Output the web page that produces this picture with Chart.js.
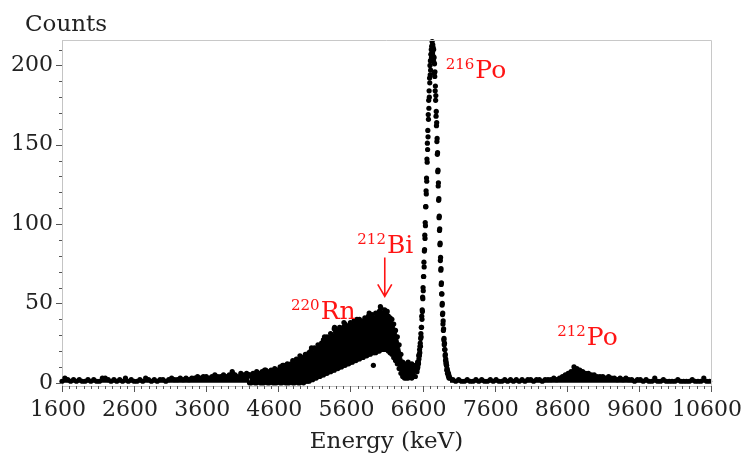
<!DOCTYPE html>
<html>
<head>
<meta charset="utf-8">
<script src="https://cdn.jsdelivr.net/npm/chart.js@4.4.1/dist/chart.umd.min.js"></script>
<style>
  html, body { margin: 0; padding: 0; background: #fff; }
</style>
</head>
<body>
<canvas id="spectrumChart" width="741" height="457"></canvas>
<script>
// tick labels
const xTickLabels = [1600, 2600, 3600, 4600, 5600, 6600, 7600, 8600, 9600, 10600];
const yTickLabels = [0, 50, 100, 150, 200];

// flat background below the Rn shoulder, one value every 40 keV from 1600 keV
const bgLeftStart = 1600, bgLeftStep = 40;
const bgLeftCounts = [
  1, 3, 2, 1, 2, 1, 2, 1, 1, 2,
  1, 2, 1, 1, 3, 3, 2, 1, 2, 1,
  2, 1, 3, 1, 2, 1, 1, 2, 1, 3,
  2, 1, 2, 1, 2, 2, 1, 2, 3, 2,
  2, 3, 2, 3, 2, 3, 3, 4, 3, 4,
  4, 3, 4, 5, 4, 4, 5, 4, 5, 7,
  5, 4, 6, 5, 6, 5
];

// 220Rn / 212Bi shoulder: upper and lower edge of the point cloud, every 25 keV from 4200 keV
const bandStart = 4200, bandStep = 25;
const bandUpper = [
  5, 4, 6, 5, 7, 5, 6, 7, 6, 8,
  6, 7, 8, 7, 9, 8, 8, 10, 9, 11,
  10, 12, 11, 12, 14, 12, 15, 14, 17, 15,
  16, 18, 17, 19, 20, 19, 22, 21, 24, 23,
  25, 27, 26, 29, 28, 31, 29, 34, 32, 33,
  35, 33, 35, 37, 35, 36, 38, 36, 39, 37,
  38, 40, 38, 39, 41, 39, 42, 40, 43, 41,
  44, 42, 45, 47, 44, 46, 43, 42, 41, 40,
  37, 33, 29, 24, 18, 13, 11, 12, 13, 11,
  12, 10, 11
];
const bandLower = [
  0, 0, 1, 0, 0, 1, 0, 0, 0, 1,
  0, 0, 1, 0, 0, 0, 1, 0, 0, 1,
  0, 0, 0, 1, 0, 0, 1, 0, 0, 1,
  0, 1, 1, 1, 2, 2, 3, 3, 4, 4,
  5, 5, 6, 6, 7, 7, 8, 8, 9, 9,
  10, 10, 11, 11, 12, 12, 13, 13, 14, 14,
  15, 15, 16, 16, 17, 17, 18, 18, 19, 19,
  19, 20, 20, 21, 21, 21, 21, 20, 19, 18,
  16, 14, 12, 9, 6, 4, 3, 3, 3, 4,
  3, 4, 4
];

// stray points scattered around the shoulder
const strayEnergy = [3968, 4410, 4660, 4873, 5060, 5240, 5380, 5510, 5690, 5860, 5918, 6015, 6110];
const strayCounts = [6, 8, 11, 14, 22, 29, 35, 38, 40, 44, 11, 48, 45];

// 216Po peak, every 3 keV from 6520 keV
const peakStart = 6520, peakStep = 3;
const peakCounts = [
  9, 7, 11, 9, 13, 10, 13, 13, 12, 17,
  15, 18, 17, 21, 19, 23, 25, 23, 28, 31,
  29, 35, 35, 42, 40, 46, 45, 54, 53, 60,
  58, 67, 67, 76, 73, 83, 84, 93, 91, 101,
  99, 111, 111, 121, 119, 129, 127, 141, 139, 151,
  147, 159, 155, 169, 166, 178, 173, 184, 180, 192,
  189, 200, 194, 203, 197, 207, 203, 210, 205, 212,
  208, 215, 213,
  208, 213, 206, 211, 204, 210, 202, 205, 195, 201,
  193, 196, 184, 187, 178, 181, 168, 171, 162, 164,
  152, 154, 144, 145, 133, 134, 124, 126, 115, 116,
  104, 105, 96, 97, 87, 88, 77, 79, 71, 72,
  62, 63, 56, 56, 49, 50, 43, 44, 37, 39,
  33, 34, 27, 28, 24, 25, 21, 21, 17, 18,
  14, 15, 12, 13, 11, 11, 8, 9, 8, 6,
  7, 6, 5, 6, 4, 5, 3, 4
];

// background above the peak incl. the 212Po bump, every 40 keV from 6980 keV
const bgRightStart = 6980, bgRightStep = 40;
const bgRightCounts = [
  3, 2, 1, 2, 1, 1, 2, 1, 1, 2,
  1, 2, 1, 1, 2, 1, 2, 1, 1, 2,
  1, 2, 1, 2, 1, 2, 1, 2, 2, 1,
  2, 2, 1, 2, 2, 2, 3, 2, 3, 4,
  5, 6, 7, 10, 9, 8, 7, 6, 6, 5,
  5, 4, 4, 4, 3, 4, 3, 3, 2, 3,
  2, 3, 2, 2, 1, 2, 2, 1, 2, 1,
  1, 3, 1, 1, 2, 1, 1, 1, 1, 2,
  1, 1, 1, 1, 2, 1, 1, 1, 3, 1,
  1
];

const isotopeLabels = [
  { sup: "216", name: "Po", e: 6921, c: 192 },
  { sup: "212", name: "Bi", e: 5695, c: 82 },
  { sup: "220", name: "Rn", e: 4776, c: 40 },
  { sup: "212", name: "Po", e: 8467, c: 24 },
];
const biArrow = { e: 6076, from: 79, to: 54.5 };

function toPoints(start, step, counts) {
  return counts.map((c, i) => ({ x: start + i * step, y: c }));
}

const FONT = "DejaVu Serif";
const dot = { pointRadius: 2.6, pointHoverRadius: 2.6, pointBackgroundColor: "#000", pointBorderWidth: 0, borderColor: "#000", borderWidth: 1, clip: false };

const decorations = {
  id: "decorations",
  afterDraw(chart) {
    const { ctx, chartArea: a, scales: { x, y } } = chart;
    ctx.save();
    ctx.strokeStyle = "#c8c8c8";
    ctx.lineWidth = 1;
    ctx.beginPath();
    ctx.moveTo(a.left, a.top + 0.5);
    ctx.lineTo(a.right + 0.5, a.top + 0.5);
    ctx.lineTo(a.right + 0.5, a.bottom);
    ctx.stroke();

    ctx.strokeStyle = "#555";
    ctx.beginPath();
    for (let v = 0; v <= 210; v += 10) {
      const py = Math.round(y.getPixelForValue(v)) + 0.5;
      const len = v % 50 === 0 ? 6 : 3;
      ctx.moveTo(a.left - len, py);
      ctx.lineTo(a.left, py);
    }
    for (let v = 1600; v <= 10600; v += 100) {
      const px = Math.round(x.getPixelForValue(v)) + 0.5;
      const len = (v - 1600) % 1000 === 0 ? 6 : 3;
      ctx.moveTo(px, a.bottom);
      ctx.lineTo(px, a.bottom + len);
    }
    ctx.stroke();

    ctx.fillStyle = "#222";
    ctx.font = "23px '" + FONT + "'";
    ctx.textAlign = "left";
    ctx.textBaseline = "alphabetic";
    ctx.fillText("Counts", 25, 31);

    ctx.fillStyle = "#ff1414";
    isotopeLabels.forEach(l => {
      const px = x.getPixelForValue(l.e);
      const py = y.getPixelForValue(l.c);
      ctx.font = "15px '" + FONT + "'";
      ctx.fillText(l.sup, px, py - 9);
      const w = ctx.measureText(l.sup).width;
      ctx.font = "25px '" + FONT + "'";
      ctx.fillText(l.name, px + w + 1, py);
    });

    const ax = x.getPixelForValue(biArrow.e);
    const ay1 = y.getPixelForValue(biArrow.from);
    const ay2 = y.getPixelForValue(biArrow.to);
    ctx.strokeStyle = "#ff1414";
    ctx.lineWidth = 1.6;
    ctx.beginPath();
    ctx.moveTo(ax, ay1);
    ctx.lineTo(ax, ay2);
    ctx.moveTo(ax - 7, ay2 - 12);
    ctx.lineTo(ax, ay2);
    ctx.lineTo(ax + 7, ay2 - 12);
    ctx.stroke();
    ctx.restore();
  }
};

new Chart(document.getElementById("spectrumChart"), {
  type: "line",
  data: {
    datasets: [
      { ...dot, data: toPoints(bgLeftStart, bgLeftStep, bgLeftCounts), fill: "origin", backgroundColor: "#000" },
      { ...dot, data: toPoints(bandStart, bandStep, bandLower), fill: false },
      { ...dot, data: toPoints(bandStart, bandStep, bandUpper), fill: "-1", backgroundColor: "#000" },
      { ...dot, data: toPoints(peakStart, peakStep, peakCounts), showLine: false },
      { ...dot, data: toPoints(bgRightStart, bgRightStep, bgRightCounts), fill: "origin", backgroundColor: "#000" },
      { ...dot, data: strayEnergy.map((e, i) => ({ x: e, y: strayCounts[i] })), showLine: false },
    ]
  },
  options: {
    responsive: false,
    animation: false,
    layout: { padding: { top: 40, right: 30, left: 0, bottom: 0 } },
    plugins: { legend: { display: false }, tooltip: { enabled: false } },
    scales: {
      x: {
        type: "linear",
        min: 1600,
        max: 10600,
        afterBuildTicks: s => { s.ticks = xTickLabels.map(v => ({ value: v })); },
        afterFit: s => { s.height = 71; s.paddingLeft = 0; s.paddingRight = 0; },
        ticks: { autoSkip: false, maxRotation: 0, padding: 5, labelOffset: -4, color: "#222", font: { family: FONT, size: 22 }, callback: v => String(v) },
        grid: { drawOnChartArea: false, tickLength: 6, color: "rgba(0,0,0,0)", tickColor: "rgba(0,0,0,0)" },
        border: { display: true, color: "#c4c4c4" },
        title: { display: true, text: "Energy (keV)", color: "#222", font: { family: FONT, size: 23 }, padding: { top: 2, bottom: 1 } }
      },
      y: {
        min: -2,
        max: 216,
        afterBuildTicks: s => { s.ticks = yTickLabels.map(v => ({ value: v })); },
        afterFit: s => { s.width = 62; s.paddingTop = 0; s.paddingBottom = 0; },
        ticks: { padding: 3, color: "#222", font: { family: FONT, size: 22 }, callback: v => String(v) },
        grid: { drawOnChartArea: false, tickLength: 6, color: "rgba(0,0,0,0)", tickColor: "rgba(0,0,0,0)" },
        border: { display: true, color: "#c4c4c4" }
      }
    }
  },
  plugins: [decorations]
});
</script>
</body>
</html>
